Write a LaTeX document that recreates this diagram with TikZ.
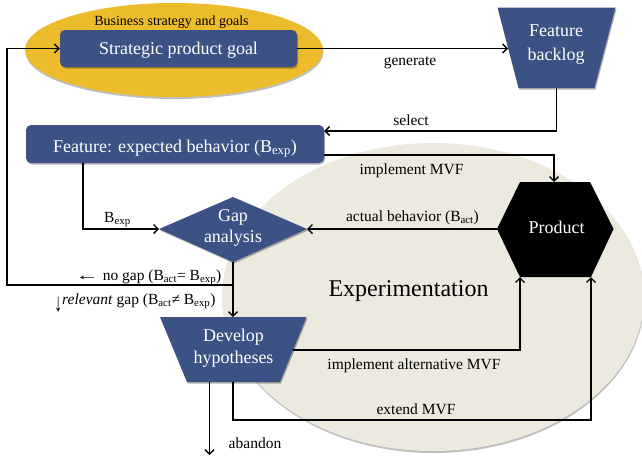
\documentclass[tikz,border=0pt]{standalone}
\usepackage{fontspec}
\setmainfont{Liberation Serif}
\usetikzlibrary{arrows.meta,shadows}
\definecolor{boxblue}{RGB}{60,81,132}
\definecolor{goalgold}{RGB}{236,188,44}
\definecolor{expbeige}{RGB}{236,233,223}
\begin{document}
\begin{tikzpicture}[x=1pt,y=-1pt,
  conn/.style={line width=1.5pt, draw=black},
  arr/.style={conn, -{Straight Barb[length=4.5pt,width=9pt,line width=1.4pt]}},
  softshadow/.style={drop shadow={shadow xshift=1pt, shadow yshift=-1.5pt, opacity=0.3, fill=black}},
  whitetext/.style={text=white, font=\fontsize{18}{21.6}\selectfont, inner sep=0pt, align=center},
  lbl/.style={font=\fontsize{15.5}{18}\selectfont, inner sep=0pt, anchor=base},
  bluebox/.style={fill=boxblue, rounded corners=5pt, text=white,
    font=\fontsize{18}{21.6}\selectfont, inner sep=0pt, softshadow},
]
\useasboundingbox (0,0) rectangle (642,459);

% business area and experimentation area
\fill[goalgold, drop shadow={shadow xshift=0.5pt, shadow yshift=-2pt, opacity=0.25, fill=black}]
  (174,50) ellipse [x radius=149pt, y radius=47pt];
\fill[expbeige, drop shadow={shadow xshift=0.5pt, shadow yshift=-2pt, opacity=0.25, fill=black}]
  (433,297) ellipse [x radius=211pt, y radius=154pt];

\node[font=\fontsize{14}{16}\selectfont, inner sep=0pt, anchor=base] (biz) at (171.5,25) {Business strategy and goals};
\node[font=\fontsize{24}{28}\selectfont, inner sep=0pt, anchor=base] (exper) at (408.5,296) {Experimentation};

% rounded boxes
\node[bluebox, minimum width=237pt, minimum height=37pt, text height=14.5pt, text depth=1.6pt]
  (goal) at (178.5,48.5) {Strategic product goal};
\node[bluebox, minimum width=298pt, minimum height=38pt, text height=17pt, text depth=1pt]
  (feature) at (175,144) {Feature: expected behavior (B\textsubscript{exp})};

% feature backlog
\coordinate (blTL) at (497.5,7.5);
\coordinate (blTR) at (615.5,7.5);
\coordinate (blBR) at (594.5,88);
\coordinate (blBL) at (518.5,88);
\coordinate (blW) at (508.2,48.5);
\coordinate (blS) at (556.5,88);
\fill[boxblue, softshadow] (blTL) -- (blTR) -- (blBR) -- (blBL) -- cycle;
\node[whitetext, font=\fontsize{18}{24}\selectfont] (backlog) at (556,45) {Feature\\backlog};

% gap analysis
\coordinate (gapN) at (233,197);
\coordinate (gapE) at (307,229);
\coordinate (gapS) at (233,262);
\coordinate (gapW) at (159,229);
\fill[boxblue, softshadow] (gapN) -- (gapE) -- (gapS) -- (gapW) -- cycle;
\node[whitetext, font=\fontsize{18}{21.3}\selectfont] (gap) at (233,228.2) {Gap\\analysis};

% develop hypotheses
\coordinate (devTL) at (160,317);
\coordinate (devTR) at (306.5,317);
\coordinate (devBR) at (280,382);
\coordinate (devBL) at (187,382);
\coordinate (devN) at (233,317);
\coordinate (devE) at (293,350);
\coordinate (devS) at (233,382);
\coordinate (devSW) at (209.5,382);
\fill[boxblue, softshadow] (devTL) -- (devTR) -- (devBR) -- (devBL) -- cycle;
\node[whitetext] (develop) at (233.5,348.3) {Develop\\hypotheses};

% product
\coordinate (prodNW) at (520,182);
\coordinate (prodN) at (554,182);
\coordinate (prodNE) at (590,182);
\coordinate (prodE) at (613.5,229);
\coordinate (prodSE) at (591,277);
\coordinate (prodSW) at (520,277);
\coordinate (prodW) at (497,229);
\fill[black] (prodNW) -- (prodNE) -- (prodE) -- (prodSE) -- (prodSW) -- (prodW) -- cycle;
\node[whitetext, anchor=base] (product) at (556.5,233) {Product};

% connectors
\draw[arr] (goal.east) -- (blW);
\node[lbl] (lgen) at (410,65) {generate};

\draw[arr] (blS) |- ([yshift=13pt]feature.east);
\node[lbl] (lsel) at (411,125) {select};

\draw[arr] ([yshift=-11pt]feature.east) -| (prodN);
\node[lbl] (limpl) at (411.5,174.3) {implement MVF};

\draw[arr] (prodW) -- (gapE);
\node[lbl] (lact) at (412.5,221) {actual behavior (B\textsubscript{act})};

\draw[arr] ([xshift=-92pt]feature.south) |- (gapW);
\node[lbl] (lbexp) at (117.5,222.7) {B\textsubscript{exp}};

\draw[arr] (gapS) -- (devN);
\coordinate (split) at (233,285);
\coordinate (loopcorner) at (7,285);
\draw[arr] (split) -- (loopcorner) |- (goal.west);
\node[lbl] (lnogap) at (148.5,280) {\scalebox{1.5}[1]{←} no gap (B\textsubscript{act}= B\textsubscript{exp})};
\node[lbl] (lrel) at (135,304) {\raisebox{-7pt}{\scalebox{1.2}[2]{\fontsize{13}{13}\selectfont ↓}}\textit{relevant} gap (B\textsubscript{act}≠ B\textsubscript{exp})};

\draw[arr] (devE) -| (prodSW);
\node[lbl] (lalt) at (414,369) {implement alternative MVF};

\draw[arr] (devS) -- ++(0,38) -| (prodSE);
\node[lbl] (lext) at (416,414) {extend MVF};

\coordinate (abandonEnd) at (209.5,455);
\draw[arr] (devSW) -- (abandonEnd);
\node[lbl] (lab) at (255,448.3) {abandon};
\end{tikzpicture}
\end{document}
